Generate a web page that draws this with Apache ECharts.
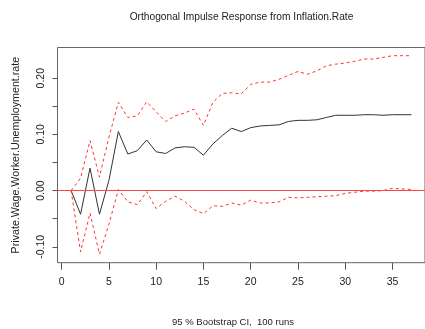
<!DOCTYPE html>
<html><head><meta charset="utf-8">
<script src="https://cdn.jsdelivr.net/npm/echarts@6/dist/echarts.min.js"></script>
<style>html,body{margin:0;padding:0;background:#fff}#c{width:425px;height:329px}</style>
</head><body><div id="c"></div>
<script>
const steps = [1,2,3,4,5,6,7,8,9,10,11,12,13,14,15,16,17,18,19,20,21,22,23,24,25,26,27,28,29,30,31,32,33,34,35,36,37];
const response = [0,-0.042,0.040,-0.042,0.018,0.105,0.065,0.071,0.090,0.069,0.066,0.076,0.078,0.077,0.063,0.083,0.098,0.111,0.105,0.112,0.115,0.116,0.117,0.123,0.125,0.125,0.126,0.130,0.134,0.134,0.134,0.135,0.135,0.134,0.135,0.135,0.135];
const upperCI = [0,0.022,0.089,0.024,0.095,0.157,0.130,0.133,0.158,0.140,0.123,0.133,0.138,0.145,0.116,0.157,0.173,0.174,0.172,0.189,0.193,0.193,0.198,0.205,0.212,0.207,0.213,0.222,0.225,0.227,0.230,0.234,0.234,0.237,0.240,0.240,0.240];
const lowerCI = [0,-0.109,-0.040,-0.113,-0.060,0.002,-0.020,-0.025,-0.002,-0.032,-0.019,-0.010,-0.019,-0.034,-0.041,-0.027,-0.028,-0.022,-0.026,-0.017,-0.022,-0.022,-0.020,-0.012,-0.013,-0.012,-0.011,-0.010,-0.009,-0.005,-0.003,-0.001,-0.001,0.000,0.004,0.003,0.002];
const xTicks = [0,5,10,15,20,25,30,35];
const yTicks = [-0.10,-0.05,0,0.05,0.10,0.15,0.20];
const yLabels = [-0.10,0.00,0.10,0.20];
const titleText = 'Orthogonal Impulse Response from Inflation.Rate';
const yName = 'Private.Wage.Worker.Unemployment.rate';
const subText = '95 % Bootstrap CI,  100 runs';

const FONT = '"Liberation Sans", Arial, sans-serif';
const pairs = arr => steps.map((s, i) => [s, arr[i]]);
const chart = echarts.init(document.getElementById('c'), null, {renderer: 'canvas'});
chart.setOption({
  animation: false,
  backgroundColor: '#fff',
  grid: {left: 57.5, right: -4.6, top: 47.5, bottom: 66.3, show: true, borderColor: '#666', borderWidth: 1, backgroundColor: 'transparent'},
  xAxis: {
    type: 'value', min: -0.44, max: 38.44,
    axisLine: {show: false, onZero: false}, splitLine: {show: false},
    axisTick: {show: true, inside: false, customValues: xTicks, length: 7, lineStyle: {color: '#555'}},
    axisLabel: {customValues: xTicks, margin: 14, fontSize: 10.5, color: '#222', fontFamily: FONT}
  },
  yAxis: {
    type: 'value', min: -0.1283, max: 0.2546,
    name: yName, nameLocation: 'middle', nameRotate: 90, nameGap: 36,
    nameTextStyle: {fontSize: 10.7, color: '#222', fontFamily: FONT},
    axisLine: {show: false, onZero: false}, splitLine: {show: false},
    axisTick: {show: true, inside: false, customValues: yTicks, length: 5, lineStyle: {color: '#555'}},
    axisLabel: {customValues: yLabels, rotate: 90, margin: 11, fontSize: 10.5, color: '#222', fontFamily: FONT,
      formatter: v => v.toFixed(2)}
  },
  graphic: [
    {type: 'text', x: 241.5, y: 17, style: {text: titleText, font: '10.2px ' + FONT, fill: '#222', textAlign: 'center', textVerticalAlign: 'middle'}},
    {type: 'text', x: 233, y: 322, style: {text: subText, font: '9.5px ' + FONT, fill: '#222', textAlign: 'center', textVerticalAlign: 'middle'}}
  ],
  series: [
    {type: 'line', data: pairs(response), symbol: 'none', lineStyle: {color: '#333', width: 1}, z: 3,
     markLine: {silent: true, symbol: 'none', label: {show: false}, lineStyle: {color: '#ff4444', type: 'solid', width: 1.2}, data: [{yAxis: 0}]}},
    {type: 'line', data: pairs(upperCI), symbol: 'none', lineStyle: {color: '#ff3030', width: 1, type: [3, 3]}},
    {type: 'line', data: pairs(lowerCI), symbol: 'none', lineStyle: {color: '#ff3030', width: 1, type: [3, 3]}}
  ]
});
</script></body></html>
